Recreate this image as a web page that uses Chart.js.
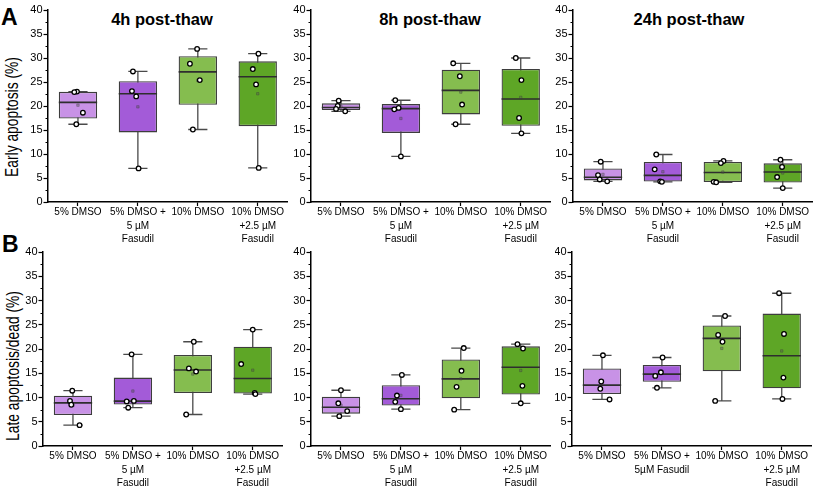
<!DOCTYPE html>
<html>
<head>
<meta charset="utf-8">
<script src="https://cdn.jsdelivr.net/npm/chart.js@4.4.0/dist/chart.umd.min.js"></script>
<style>
  body { margin: 0; background: #fff; width: 817px; height: 488px; position: relative; overflow: hidden;
         font-family: "Liberation Sans", Arial, sans-serif; color: #000; }
  canvas { position: absolute; }
  .letter { position: absolute; font-weight: bold; font-size: 23px; line-height: 24px; }
  .ptitle { position: absolute; width: 200px; text-align: center; font-weight: bold; font-size: 16.5px;
            line-height: 20px; white-space: nowrap; }
  .ytitle { position: absolute; width: 220px; height: 20px; line-height: 20px; text-align: center;
            font-size: 17.5px; white-space: nowrap; transform: rotate(-90deg) scaleX(0.79); }
</style>
</head>
<body>
<div class="letter" style="left:1px;top:5px">A</div>
<div class="letter" style="left:2px;top:232px">B</div>
<div class="ptitle" style="left:62px;top:9px">4h post-thaw</div>
<div class="ptitle" style="left:330px;top:9px">8h post-thaw</div>
<div class="ptitle" style="left:589px;top:9px">24h post-thaw</div>
<div class="ytitle" style="left:-98px;top:107px">Early apoptosis (%)</div>
<div class="ytitle" style="left:-97px;top:356px">Late apoptosis/dead (%)</div>

<canvas id="a4" width="293" height="248" style="left:0px;top:0px"></canvas>
<canvas id="a8" width="264" height="248" style="left:292px;top:0px"></canvas>
<canvas id="a24" width="263" height="248" style="left:555px;top:0px"></canvas>
<canvas id="b4" width="288" height="248" style="left:0px;top:240px"></canvas>
<canvas id="b8" width="264" height="248" style="left:292px;top:240px"></canvas>
<canvas id="b24" width="262" height="248" style="left:555px;top:240px"></canvas>

<script>
// group names and their wrapped tick labels
var groups = ['5% DMSO', '5% DMSO + 5 µM Fasudil', '10% DMSO', '10% DMSO +2.5 µM Fasudil'];
var tickLines = [['5% DMSO'], ['5% DMSO +', '5 µM', 'Fasudil'], ['10% DMSO'], ['10% DMSO', '+2.5 µM', 'Fasudil']];
var tickLinesLate24 = [['5% DMSO'], ['5% DMSO +', '5µM Fasudil'], ['10% DMSO'], ['10% DMSO', '+2.5 µM', 'Fasudil']];
var yTicks = [0, 5, 10, 15, 20, 25, 30, 35, 40];

// replicate values (%) per group
var early4h = [[23.0, 22.9, 18.6, 16.2], [27.2, 23.1, 22.0, 7.0], [31.9, 28.8, 25.4, 15.1], [30.9, 27.7, 24.5, 7.1]];
var early8h = [[21.1, 20.0, 19.4, 18.9], [21.2, 19.6, 19.3, 9.5], [28.9, 26.2, 20.3, 16.2], [30.0, 25.4, 17.5, 14.3]];
var early24h = [[8.4, 5.6, 4.7, 4.3], [9.9, 6.8, 4.3, 4.2], [8.55, 8.1, 4.2, 4.1], [8.8, 7.3, 5.2, 2.9]];
var late4h = [[11.4, 9.3, 8.5, 4.3], [18.9, 9.3, 9.2, 7.9], [21.5, 16.0, 15.35, 6.5], [24.0, 16.9, 10.95, 10.7]];
var late8h = [[11.5, 8.8, 7.2, 6.15], [14.65, 10.4, 9.1, 7.6], [20.2, 15.5, 12.2, 7.5], [21.0, 20.1, 12.4, 8.8]];
var late24h = [[18.7, 13.3, 11.8, 9.6], [18.25, 15.2, 14.45, 12.0], [26.8, 22.9, 21.5, 9.3], [31.5, 23.1, 14.1, 9.7]];

// horizontal scatter of the dots (px), same order as the values above
var jitEarly4h = [[-1, -3.7, 5, -1.7], [-5, -6, -1.7, 0.7], [-0.7, -8, 2, -5], [0.7, -5, -1.7, 1]];
var jitEarly8h = [[-2.3, -3.3, -5, 4.3], [-5.7, -2.3, -6.7, 0], [-7.7, -1, 1.3, -5.3], [-5, 0.7, -1.7, 0.7]];
var jitEarly24h = [[-2.3, -5, -3.3, 4.3], [-6.7, -8.3, -2.7, -1], [0.7, -2, -9.3, -6.7], [-2.3, -0.7, -5.7, 0]];
var jitLate4h = [[-0.7, -3, -1.7, 6.7], [-1.3, 1, -6.3, -4.7], [1, -4, 3.3, -6.7], [0, -11.7, 2, 2.7]];
var jitLate8h = [[0, -2.7, 6.3, -1.7], [1, -4, -5.7, 0], [3, 0.7, -4.3, -6.7], [-3.3, 2.3, 1.7, 0]];
var jitLate24h = [[1, -0.7, -1.7, 7.7], [0.7, -1, -6.7, -5], [3.3, -3.7, 0.7, -6.7], [-2.7, 2.3, 1.7, 0.7]];

var BAND = 60.7;
var boxFill = ['#c892e6', '#a35bd8', '#85bd4f', '#5ea626'];
var FONT = '"Liberation Sans", Arial, sans-serif';

// Tukey hinges, whiskers at min/max
function boxStats(vals) {
    var s = vals.slice().sort(function (a, b) { return a - b; });
    var n = s.length, half = Math.ceil(n / 2);
    var med = function (a) {
        var m = a.length;
        return m % 2 ? a[(m - 1) / 2] : (a[m / 2 - 1] + a[m / 2]) / 2;
    };
    return {
        min: s[0], max: s[n - 1],
        q1: med(s.slice(0, half)), median: med(s), q3: med(s.slice(n - half)),
        mean: s.reduce(function (a, b) { return a + b; }, 0) / n
    };
}

var statsById = {};

//- whiskers, caps, medians and minor ticks -
var boxParts = {
    id: 'boxParts',
    beforeDatasetsDraw: function (chart) {
        var st = statsById[chart.canvas.id];
        var ctx = chart.ctx, x = chart.scales.x, y = chart.scales.y;
        var bars = chart.getDatasetMeta(0).data;
        ctx.save();
        ctx.strokeStyle = '#4a4a4a';
        ctx.lineWidth = 1.3;
        st.forEach(function (s, i) {
            var px = x.getPixelForValue(i);
            var cw = bars[i].width / 4;
            ctx.beginPath();
            ctx.moveTo(px, y.getPixelForValue(s.min));
            ctx.lineTo(px, y.getPixelForValue(s.max));
            [s.min, s.max].forEach(function (v) {
                var py = y.getPixelForValue(v);
                ctx.moveTo(px - cw, py);
                ctx.lineTo(px + cw, py);
            });
            ctx.stroke();
        });
        ctx.restore();
    },
    afterDatasetDraw: function (chart, args) {
        if (args.index !== 0) return;
        var st = statsById[chart.canvas.id];
        var ctx = chart.ctx, y = chart.scales.y;
        var bars = chart.getDatasetMeta(0).data;
        ctx.save();
        ctx.strokeStyle = '#2e2e2e';
        ctx.lineWidth = 1.6;
        st.forEach(function (s, i) {
            var b = bars[i], py = y.getPixelForValue(s.median);
            ctx.beginPath();
            ctx.moveTo(b.x - b.width / 2, py);
            ctx.lineTo(b.x + b.width / 2, py);
            ctx.stroke();
        });
        ctx.restore();
    },
    afterDraw: function (chart) {
        var ctx = chart.ctx, y = chart.scales.y, left = chart.chartArea.left;
        ctx.save();
        ctx.strokeStyle = '#000';
        ctx.lineWidth = 1;
        for (var v = 2.5; v < 40; v += 5) {
            var py = Math.round(y.getPixelForValue(v)) + 0.5;
            ctx.beginPath();
            ctx.moveTo(left - 2.5, py);
            ctx.lineTo(left, py);
            ctx.stroke();
        }
        ctx.restore();
    }
};

function makePanel(id, values, jitter, labels, yW, padTop, xH) {
    var stats = values.map(boxStats);
    statsById[id] = stats;

    var boxes = stats.map(function (s, i) { return { x: i, y: [s.q1, s.q3] }; });
    var means = stats.map(function (s, i) { return { x: i, y: s.mean }; });
    var dots = [];
    values.forEach(function (vals, i) {
        vals.forEach(function (v, k) {
            dots.push({ x: i + jitter[i][k] / BAND, y: v });
        });
    });

    return new Chart(document.getElementById(id), {
        type: 'bar',
        data: {
            datasets: [
                {
                    data: boxes,
                    backgroundColor: boxFill,
                    borderColor: '#3d3d3d',
                    borderWidth: 1.3,
                    borderSkipped: false,
                    categoryPercentage: 1,
                    barPercentage: 0.64,
                    order: 2
                },
                {
                    type: 'scatter',
                    data: means,
                    pointStyle: 'rect',
                    pointRadius: 1.7,
                    backgroundColor: 'rgba(90,90,90,0.35)',
                    borderColor: 'rgba(60,60,60,0.45)',
                    borderWidth: 0.8,
                    order: 1
                },
                {
                    type: 'scatter',
                    data: dots,
                    pointStyle: 'circle',
                    pointRadius: 2.3,
                    backgroundColor: '#ffffff',
                    borderColor: '#000000',
                    borderWidth: 1.3,
                    order: 0
                }
            ]
        },
        options: {
            responsive: false,
            animation: false,
            events: [],
            layout: { padding: { top: padTop, right: 2, left: 0, bottom: 0 } },
            plugins: { legend: { display: false }, tooltip: { enabled: false } },
            scales: {
                x: {
                    type: 'linear',
                    min: -0.5,
                    max: 3.5,
                    offset: false,
                    afterBuildTicks: function (s) {
                        s.ticks = [0, 1, 2, 3].map(function (v) { return { value: v }; });
                    },
                    afterFit: function (s) { s.height = xH; },
                    ticks: {
                        autoSkip: false,
                        maxRotation: 0,
                        minRotation: 0,
                        padding: 0,
                        color: '#000',
                        font: { family: FONT, size: 10, lineHeight: 1.33 },
                        callback: function (v) { return labels[v]; }
                    },
                    grid: { drawOnChartArea: false, offset: false, tickLength: 4, color: '#000', tickWidth: 1.2 },
                    border: { color: '#000', width: 1.5 }
                },
                y: {
                    min: 0,
                    max: 40,
                    afterBuildTicks: function (s) {
                        s.ticks = yTicks.map(function (v) { return { value: v }; });
                    },
                    afterFit: function (s) { s.width = yW; },
                    ticks: {
                        padding: 1,
                        color: '#000',
                        font: { family: FONT, size: 11 }
                    },
                    grid: { drawOnChartArea: false, tickLength: 4.5, color: '#000', tickWidth: 1.2 },
                    border: { color: '#000', width: 1.5 }
                }
            }
        },
        plugins: [boxParts]
    });
}

makePanel('a4', early4h, jitEarly4h, tickLines, 48, 10, 46);
makePanel('a8', early8h, jitEarly8h, tickLines, 19, 10, 46);
makePanel('a24', early24h, jitEarly24h, tickLines, 18, 10, 46);
makePanel('b4', late4h, jitLate4h, tickLines, 43, 12, 42);
makePanel('b8', late8h, jitLate8h, tickLines, 19, 12, 42);
makePanel('b24', late24h, jitLate24h, tickLinesLate24, 17, 12, 42);
</script>
</body>
</html>
